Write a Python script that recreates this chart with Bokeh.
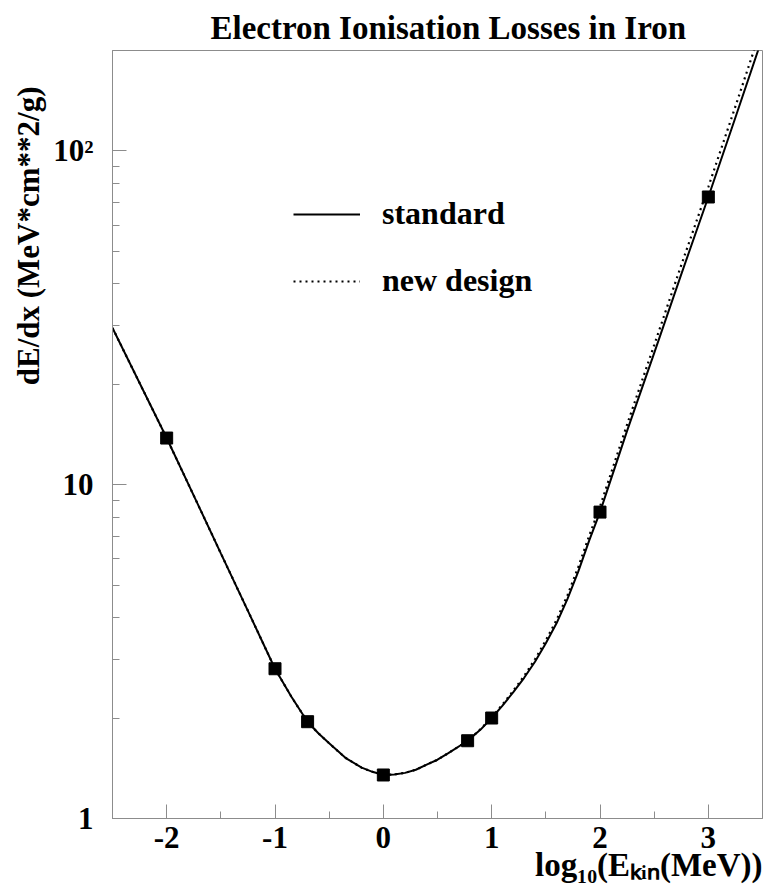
from bokeh.plotting import figure
from bokeh.models import (Range1d, Legend, LegendItem, ColumnDataSource,
                          SingleIntervalTicker, LogTicker, Title)
from bokeh.embed import file_html
from bokeh.resources import INLINE

# ---- data ----
log_e_curve = [-2.5, -2.0, -1.7, -1.5, -1.25, -1.0, -0.85, -0.7, -0.6, -0.5, -0.35, -0.2,
               -0.1, 0.0, 0.1, 0.2, 0.3, 0.4, 0.5, 0.6, 0.78, 0.9, 1.0, 1.1, 1.2, 1.3, 1.4,
               1.5, 1.6, 1.7, 1.8, 1.9, 2.0, 2.25, 2.5, 2.75, 3.0, 3.25, 3.5]
dedx_standard = [29.5, 13.8, 8.57, 6.23, 4.19, 2.81, 2.32, 1.95, 1.80, 1.68, 1.52, 1.42,
                 1.38, 1.35, 1.355, 1.37, 1.40, 1.45, 1.50, 1.57, 1.71, 1.85, 2.0, 2.18,
                 2.39, 2.64, 2.95, 3.35, 3.85, 4.55, 5.5, 6.8, 8.28, 14.5, 24.8, 42.7, 72.8,
                 126, 219]
dedx_new = [29.5, 13.8, 8.57, 6.23, 4.19, 2.81, 2.32, 1.95, 1.80, 1.68, 1.52, 1.42,
            1.38, 1.35, 1.355, 1.37, 1.40, 1.45, 1.50, 1.57, 1.71, 1.855, 2.01, 2.195,
            2.415, 2.675, 3.0, 3.42, 3.94, 4.67, 5.67, 7.03, 8.6, 15.15, 26.2, 45.5, 78.0,
            136, 239]
log_e_points = [-2.0, -1.0, -0.699, 0.0, 0.778, 1.0, 2.0, 3.0]
dedx_points = [13.8, 2.81, 1.95, 1.35, 1.71, 2.0, 8.28, 72.8]
x_tick_labels = {-2: "-2", -1: "-1", 0: "0", 1: "1", 2: "2", 3: "3"}
y_tick_labels = {1: "1", 10: "10", 100: "10\u00b2"}
title_text = "Electron Ionisation Losses in Iron"
x_title = "log\u2081\u2080(E\u2096\u1d62\u2099(MeV))"
y_title = "dE/dx (MeV*cm**2/g)"

FONT = "Liberation Serif"
GREY = "#8c8c8c"

p = figure(width=772, height=893, x_range=Range1d(-2.5, 3.5), y_range=Range1d(1, 200),
           y_axis_type="log", output_backend="svg", toolbar_location=None,
           min_border_left=112, min_border_right=10, min_border_top=50, min_border_bottom=75)
p.background_fill_color = "white"
p.border_fill_color = "white"
p.outline_line_color = GREY
p.outline_line_width = 1
p.xgrid.visible = False
p.ygrid.visible = False

p.title.text = title_text
p.title.align = "left"
p.title.offset = 98
p.title.text_font = FONT
p.title.text_font_style = "bold"
p.title.text_font_size = "33px"
p.title.text_color = "black"
p.title.standoff = 10

# x axis
xa = p.xaxis[0]
xa.ticker = SingleIntervalTicker(interval=1, num_minor_ticks=2)
xa.major_label_overrides = x_tick_labels
xa.major_tick_in = 14
xa.major_tick_out = 0
xa.minor_tick_in = 7
xa.minor_tick_out = 0
xa.axis_line_color = GREY
xa.major_tick_line_color = GREY
xa.minor_tick_line_color = GREY
xa.major_label_text_font = FONT
xa.major_label_text_font_style = "bold"
xa.major_label_text_font_size = "31px"
xa.major_label_text_color = "black"
xa.major_label_standoff = 8

# y axis
ya = p.yaxis[0]
ya.ticker = LogTicker(num_minor_ticks=10)
ya.major_tick_in = 14
ya.major_tick_out = 0
ya.minor_tick_in = 7
ya.minor_tick_out = 0
ya.axis_line_color = GREY
ya.major_tick_line_color = GREY
ya.minor_tick_line_color = GREY
ya.major_label_overrides = y_tick_labels
ya.major_label_text_font = FONT
ya.major_label_text_font_style = "bold"
ya.major_label_text_font_size = "31px"
ya.major_label_text_color = "black"
ya.major_label_standoff = 19

# curves
src_std = ColumnDataSource(dict(x=log_e_curve, y=dedx_standard))
src_new = ColumnDataSource(dict(x=log_e_curve, y=dedx_new))
r_new = p.line("x", "y", source=src_new, line_color="black", line_width=2.2, line_dash="2 4")
r_std = p.line("x", "y", source=src_std, line_color="black", line_width=2)
p.scatter(log_e_points, dedx_points, marker="square", size=12, color="black")

legend = Legend(items=[LegendItem(label="standard", renderers=[r_std]),
                       LegendItem(label="new design", renderers=[r_new])],
                location=(181, 519), orientation="vertical",
                glyph_width=67, glyph_height=30, label_height=30, spacing=30,
                padding=0, margin=0, label_standoff=22,
                border_line_alpha=0, background_fill_alpha=0,
                label_text_font=FONT, label_text_font_style="bold",
                label_text_font_size="32px", label_text_color="black")
p.add_layout(legend, "center")

# axis titles as side-panel titles (not clipped by the frame)
yt = Title(text=y_title, align="right", offset=36, standoff=10, text_font=FONT,
           text_font_style="bold", text_font_size="31px", text_color="black")
p.add_layout(yt, "left")
xt = Title(text=x_title, align="right", offset=0, standoff=-12, text_font=FONT,
           text_font_style="bold", text_font_size="33px", text_color="black")
p.add_layout(xt, "below")

open("out.html", "w").write(file_html(p, INLINE))
